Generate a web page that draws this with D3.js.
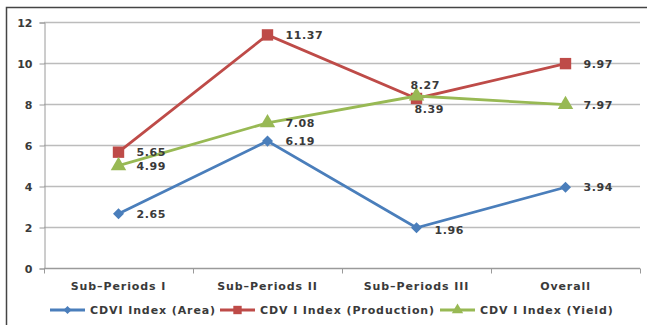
<!DOCTYPE html>
<html lang="en">
<head>
<meta charset="UTF-8">
<title>CDVI Index</title>
<script src="https://cdn.jsdelivr.net/npm/d3@7"></script>
<style>
body { margin: 0; background: #fff; }
text { font-family: "DejaVu Sans", Verdana, sans-serif; fill: #3a3a3a; }
</style>
</head>
<body>
<svg width="647" height="325"></svg>
<script>
var categories = ['Sub\u2013Periods I', 'Sub\u2013Periods II', 'Sub\u2013Periods III', 'Overall'];
var areaValues = [2.65, 6.19, 1.96, 3.94];
var productionValues = [5.65, 11.37, 8.27, 9.97];
var yieldValues = [4.99, 7.08, 8.39, 7.97];
var seriesNames = ['CDVI Index (Area)', 'CDV I Index (Production)', 'CDV I Index (Yield)'];
var yTicks = [0, 2, 4, 6, 8, 10, 12];
// where each value label sits relative to its point
var areaLabelPos = ['right', 'right', 'rightLow', 'right'];
var productionLabelPos = ['right', 'right', 'above', 'right'];
var yieldLabelPos = ['right', 'right', 'below', 'right'];

var svg = d3.select('svg');

// outer frame
svg.append('rect')
    .attr('x', 6.5).attr('y', 7.5)
    .attr('width', 660).attr('height', 340)
    .attr('fill', 'none')
    .attr('stroke', '#444').attr('stroke-width', 1.5);

var x = d3.scaleBand().domain(categories).range([44, 640]).padding(0);
var y = d3.scaleLinear().domain([0, 12]).range([268, 22]);

// gridlines
svg.append('g').selectAll('line')
    .data(yTicks.filter(function(d) { return d > 0; }))
    .enter().append('line')
    .attr('x1', 44).attr('x2', 640)
    .attr('y1', function(d) { return y(d) + 0.5; })
    .attr('y2', function(d) { return y(d) + 0.5; })
    .attr('stroke', '#bcbcbc').attr('stroke-width', 1.3);

// y axis
var yAxis = svg.append('g')
    .attr('transform', 'translate(44.5,0.5)')
    .call(d3.axisLeft(y).tickValues(yTicks).tickSize(5).tickPadding(7));
yAxis.select('.domain').attr('stroke', '#9a9a9a');
yAxis.selectAll('.tick line').attr('stroke', '#9a9a9a');
yAxis.selectAll('text').attr('font-size', 11).attr('font-weight', 'bold').attr('fill', '#3a3a3a');

// x axis: ticks at band edges
var xAxis = svg.append('g').attr('transform', 'translate(0,268.5)');
xAxis.append('line').attr('x1', 44).attr('x2', 640).attr('stroke', '#9a9a9a').attr('stroke-width', 1.3);
xAxis.selectAll('.edge')
    .data(categories.concat(['__end']))
    .enter().append('line')
    .attr('x1', function(d, i) { return i < categories.length ? x(d) + 0.5 : 640.5; })
    .attr('x2', function(d, i) { return i < categories.length ? x(d) + 0.5 : 640.5; })
    .attr('y1', 0).attr('y2', 5)
    .attr('stroke', '#9a9a9a');
xAxis.selectAll('text')
    .data(categories)
    .enter().append('text')
    .attr('x', function(d) { return x(d) + x.bandwidth() / 2; })
    .attr('y', 21)
    .attr('text-anchor', 'middle')
    .attr('font-size', 11)
    .attr('font-weight', 'bold')
    .attr('letter-spacing', 0.9)
    .text(function(d) { return d; });

var series = [
    { name: seriesNames[0], values: areaValues, color: '#4a7ebb', marker: 'diamond', labels: areaLabelPos },
    { name: seriesNames[1], values: productionValues, color: '#be4b48', marker: 'square', labels: productionLabelPos },
    { name: seriesNames[2], values: yieldValues, color: '#98b954', marker: 'triangle', labels: yieldLabelPos }
];

function markerPath(type, size) {
    if (type === 'diamond') return d3.symbol().type(d3.symbolDiamond2).size(size * 0.6)();
    if (type === 'square') return d3.symbol().type(d3.symbolSquare).size(size)();
    return d3.symbol().type(d3.symbolTriangle).size(size * 0.8)();
}

var line = d3.line()
    .x(function(d, i) { return x(categories[i]) + x.bandwidth() / 2; })
    .y(function(d) { return y(d); });

series.forEach(function(s) {
    var g = svg.append('g');
    g.append('path')
        .attr('d', line(s.values))
        .attr('fill', 'none')
        .attr('stroke', s.color)
        .attr('stroke-width', 2.8);
    g.selectAll('.m')
        .data(s.values)
        .enter().append('path')
        .attr('transform', function(d, i) {
            return 'translate(' + (x(categories[i]) + x.bandwidth() / 2) + ',' + y(d) + ')';
        })
        .attr('d', markerPath(s.marker, 130))
        .attr('fill', s.color);
});

// value labels
series.forEach(function(s) {
    svg.append('g').selectAll('text')
        .data(s.values)
        .enter().append('text')
        .attr('font-size', 11)
        .attr('font-weight', 'bold')
        .attr('letter-spacing', 0.6)
        .attr('x', function(d, i) {
            var cx = x(categories[i]) + x.bandwidth() / 2;
            var p = s.labels[i];
            if (p === 'above') return cx - 6;
            if (p === 'below') return cx - 2;
            return cx + 18;
        })
        .attr('y', function(d, i) {
            var p = s.labels[i];
            if (p === 'above') return y(d) - 9;
            if (p === 'below') return y(d) + 17;
            if (p === 'rightLow') return y(d) + 6;
            return y(d) + 4;
        })
        .text(function(d) { return d.toFixed(2); });
});

// legend
var legendX = [50, 220, 440];
var legend = svg.append('g').attr('transform', 'translate(0,310)');
series.forEach(function(s, i) {
    var lg = legend.append('g').attr('transform', 'translate(' + legendX[i] + ',0)');
    lg.append('line').attr('x1', 0).attr('x2', 35).attr('y1', 0).attr('y2', 0)
        .attr('stroke', s.color).attr('stroke-width', 2.8);
    lg.append('path').attr('transform', 'translate(17.5,0)')
        .attr('d', markerPath(s.marker, 70)).attr('fill', s.color);
    lg.append('text').attr('x', 40).attr('y', 4)
        .attr('font-size', 11).attr('font-weight', 'bold').attr('letter-spacing', 0.9)
        .text(s.name);
});
</script>
</body>
</html>
